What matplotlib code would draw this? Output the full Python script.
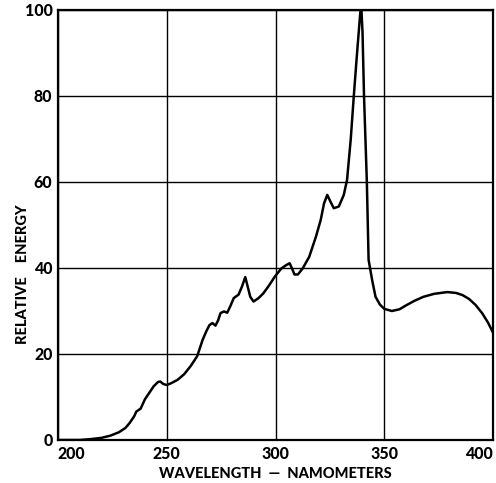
import matplotlib
matplotlib.use("Agg")
import matplotlib.pyplot as plt

wavelength = [200, 205, 210, 215, 220, 224, 228, 231, 233, 235, 236, 238, 240, 242, 244, 246, 247,
              248.5, 250, 252, 255, 258, 261, 264, 266.5, 268.2, 269.6, 271, 272.4, 273.6, 274.7, 276.3, 277.8,
              279.3, 280.8, 283, 284.6, 286.1, 287.2, 288.4, 289.9, 292.2, 294.4, 296.7, 299.7, 302.7,
              305, 306.5, 307.6, 308.7, 310.3, 312.5, 315.5, 318.6, 320.8, 322.3, 323.8, 325.3,
              326.8, 329.1, 331.4, 332.9, 334.6, 336, 337.5, 339, 339.5, 340, 340.7, 342, 342.8,
              344.5, 346, 348, 350, 353.5, 357, 360, 364, 368, 373, 379, 383, 386, 389, 392, 395,
              397.6, 400]
energy = [0.0, 0.0, 0.0, 0.2, 0.5, 1.0, 1.8, 2.8, 4.0, 5.5, 6.6, 7.3, 9.5, 11.0, 12.5, 13.5, 13.6,
          13.0, 12.8, 13.2, 14.0, 15.3, 17.2, 19.5, 23.3, 25.3, 26.7, 27.2, 26.6, 27.8, 29.5, 29.9, 29.6,
          31.2, 33.0, 33.8, 35.7, 37.9, 35.7, 33.3, 32.2, 33.0, 34.1, 35.7, 38.0, 39.9,
          40.7, 41.1, 39.9, 38.5, 38.5, 39.9, 42.6, 47.3, 51.2, 55.0, 57.0, 55.4,
          53.9, 54.3, 57.0, 60.5, 70.0, 80.0, 90.0, 99.5, 100.0, 95.0, 80.0, 60.0, 41.9,
          37.0, 33.3, 31.5, 30.5, 30.0, 30.4, 31.3, 32.4, 33.3, 34.0, 34.4, 34.2, 33.7, 32.8, 31.4, 29.5,
          27.4, 25.0]

x_ticks = [200, 250, 300, 350, 400]
y_ticks = [0, 20, 40, 60, 80, 100]

plt.rcParams['font.family'] = ['Lato', 'DejaVu Sans']
fig = plt.figure(figsize=(4.96, 4.83), dpi=100)
ax = fig.add_axes([58/496, 43/483, 435/496, 430/483])
ax.plot(wavelength, energy, color='black', lw=1.8, solid_capstyle='round', solid_joinstyle='round')
ax.set_xlim(200, 400)
ax.set_ylim(0, 100)
ax.set_xticks(x_ticks)
ax.set_yticks(y_ticks)
ax.tick_params(length=0, labelsize=11.5, pad=4)
for lab in ax.get_xticklabels() + ax.get_yticklabels():
    lab.set_fontweight('black')
xl = ax.get_xticklabels()
xl[0].set_horizontalalignment('left')
xl[-1].set_horizontalalignment('right')
ax.grid(True, color='black', lw=1.0)
for s in ax.spines.values():
    s.set_linewidth(1.6)
ax.set_xlabel('WAVELENGTH  —  NAMOMETERS', fontsize=10.5, fontweight='black', labelpad=4)
ax.set_ylabel('RELATIVE    ENERGY', fontsize=10.5, fontweight='black')
ax.yaxis.set_label_coords(-0.064, 0.386)
fig.savefig('out.png', dpi=100)
